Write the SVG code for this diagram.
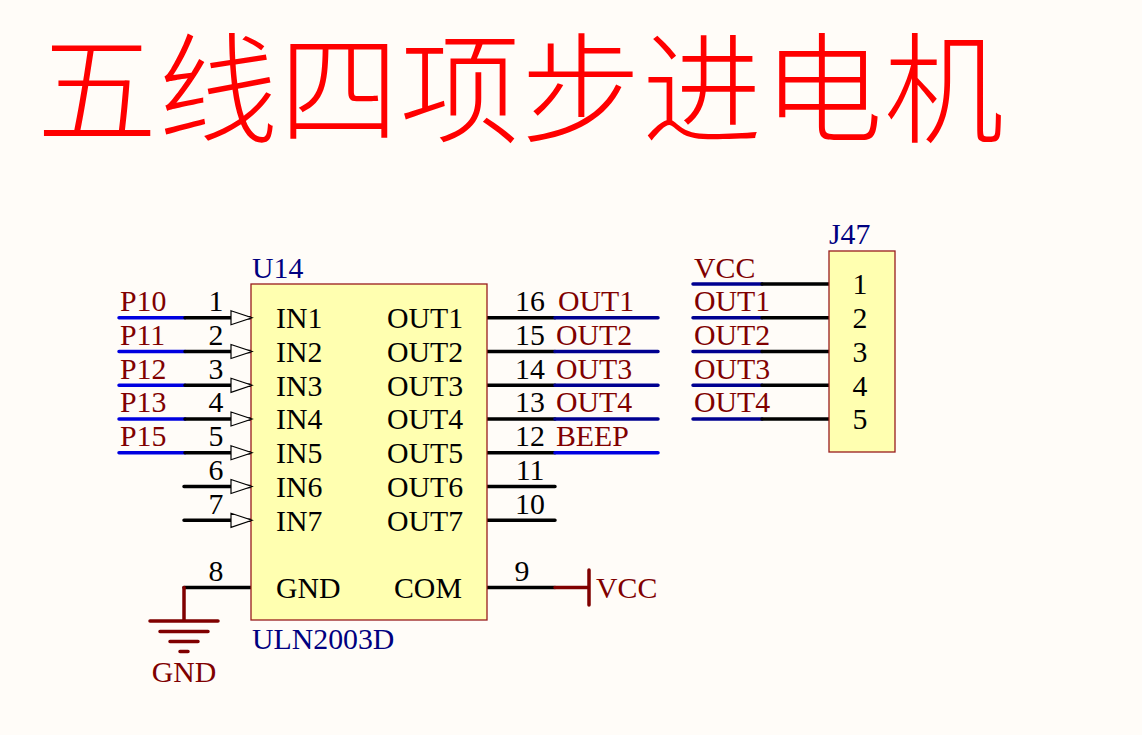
<svg xmlns="http://www.w3.org/2000/svg" width="1142" height="735" viewBox="0 0 1142 735">
<style>
text{font-family:"Liberation Serif","Noto Sans CJK SC",serif;font-size:29.8px}
.t{fill:#000}
.n{fill:#800000}
.d{fill:#000080}
.m{text-anchor:middle}
.body{fill:#FFFFB0;stroke:#991C1C;stroke-width:1.3}
.pin,.blue,.navy,.red{fill:none;stroke-linecap:round;stroke-width:3.5}
.pin{stroke:#000}
.blue{stroke:#0000E0}
.navy{stroke:#000090}
.red{stroke:#800000}
.arr{fill:#FFFCF8;stroke:#000;stroke-width:1.2}
#title{font-family:"Noto Sans CJK SC",sans-serif;font-size:120px;letter-spacing:1px;fill:#FF0000;font-weight:200}
</style>
<rect width="1142" height="735" fill="#FFFCF8"/>
<text id="title" x="37" y="134">五线四项步进电机</text>
<g id="connectors">
<path class="blue" d="M119 317.700H185M119 351.500H185M119 385.300H185M119 419H185M119 452.700H185"/>
<path class="pin" d="M185 317.700H252M185 351.500H252M185 385.300H252M185 419H252M185 452.700H252M184 486.500H252M184 520.300H252M184 587.500H252"/>
<path class="pin" d="M487 317.700H555M487 351.500H555M487 385.300H555M487 419H555M487 452.700H555M487 486.500H555M487 520.300H555M487 587.500H555"/>
<path class="navy" d="M555 317.700H658M555 351.500H658M555 385.300H658M555 419H658"/>
<path class="blue" d="M555 452.700H658"/>
<path class="navy" d="M693 284H762M693 317.700H762M693 351.500H762M693 385.300H762M693 419H762"/>
<path class="pin" d="M762 284H830M762 317.700H830M762 351.500H830M762 385.300H830M762 419H830"/>
<path class="red" d="M555 587.500H589M589 570V605"/>
<path class="red" d="M184 587.500V621M150 621H218M160 631.500H208M170 641.500H198M180 651.500H188"/>
</g>
<g id="u14">
<rect class="body" x="251" y="284" width="236" height="336"/>
<path class="arr" d="M231 310.700L252 317.700L231 324.700ZM231 344.500L252 351.500L231 358.500ZM231 378.300L252 385.300L231 392.300ZM231 412L252 419L231 426ZM231 445.700L252 452.700L231 459.700ZM231 479.500L252 486.500L231 493.500ZM231 513.300L252 520.300L231 527.300Z"/>
<text class="d" x="252" y="278">U14</text>
<text class="d" x="252" y="649">ULN2003D</text>
<g class="t">
<text x="276" y="328">IN1</text><text x="276" y="362">IN2</text><text x="276" y="396">IN3</text><text x="276" y="429">IN4</text><text x="276" y="463">IN5</text><text x="276" y="497">IN6</text><text x="276" y="531">IN7</text><text x="276" y="598">GND</text>
<text x="387" y="328">OUT1</text><text x="387" y="362">OUT2</text><text x="387" y="396">OUT3</text><text x="387" y="429">OUT4</text><text x="387" y="463">OUT5</text><text x="387" y="497">OUT6</text><text x="387" y="531">OUT7</text><text x="394" y="598">COM</text>
<g class="m">
<text x="216" y="311">1</text><text x="216" y="345">2</text><text x="216" y="379">3</text><text x="216" y="412">4</text><text x="216" y="446">5</text><text x="216" y="480">6</text><text x="216" y="514">7</text><text x="216" y="581">8</text>
<text x="530" y="311">16</text><text x="530" y="345">15</text><text x="530" y="379">14</text><text x="530" y="412">13</text><text x="530" y="446">12</text><text x="530" y="480">11</text><text x="530" y="514">10</text><text x="522" y="581">9</text>
</g></g>
</g>
<g id="j47">
<rect class="body" x="829" y="251" width="66" height="201"/>
<text class="d" x="829" y="244">J47</text>
<g class="t m">
<text x="860" y="294">1</text><text x="860" y="328">2</text><text x="860" y="362">3</text><text x="860" y="396">4</text><text x="860" y="429">5</text>
</g>
</g>
<g id="net-labels" class="n">
<text x="120" y="311">P10</text><text x="120" y="345">P11</text><text x="120" y="379">P12</text><text x="120" y="412">P13</text><text x="120" y="446">P15</text>
<text x="558" y="311">OUT1</text><text x="556" y="345">OUT2</text><text x="556" y="379">OUT3</text><text x="556" y="412">OUT4</text><text x="556" y="446">BEEP</text>
<text x="694" y="278">VCC</text><text x="694" y="311">OUT1</text><text x="694" y="345">OUT2</text><text x="694" y="379">OUT3</text><text x="694" y="412">OUT4</text>
</g>
<g id="vcc"><text class="n" x="596" y="598">VCC</text></g>
<g id="gnd"><text class="n m" x="184" y="682">GND</text></g>
</svg>
